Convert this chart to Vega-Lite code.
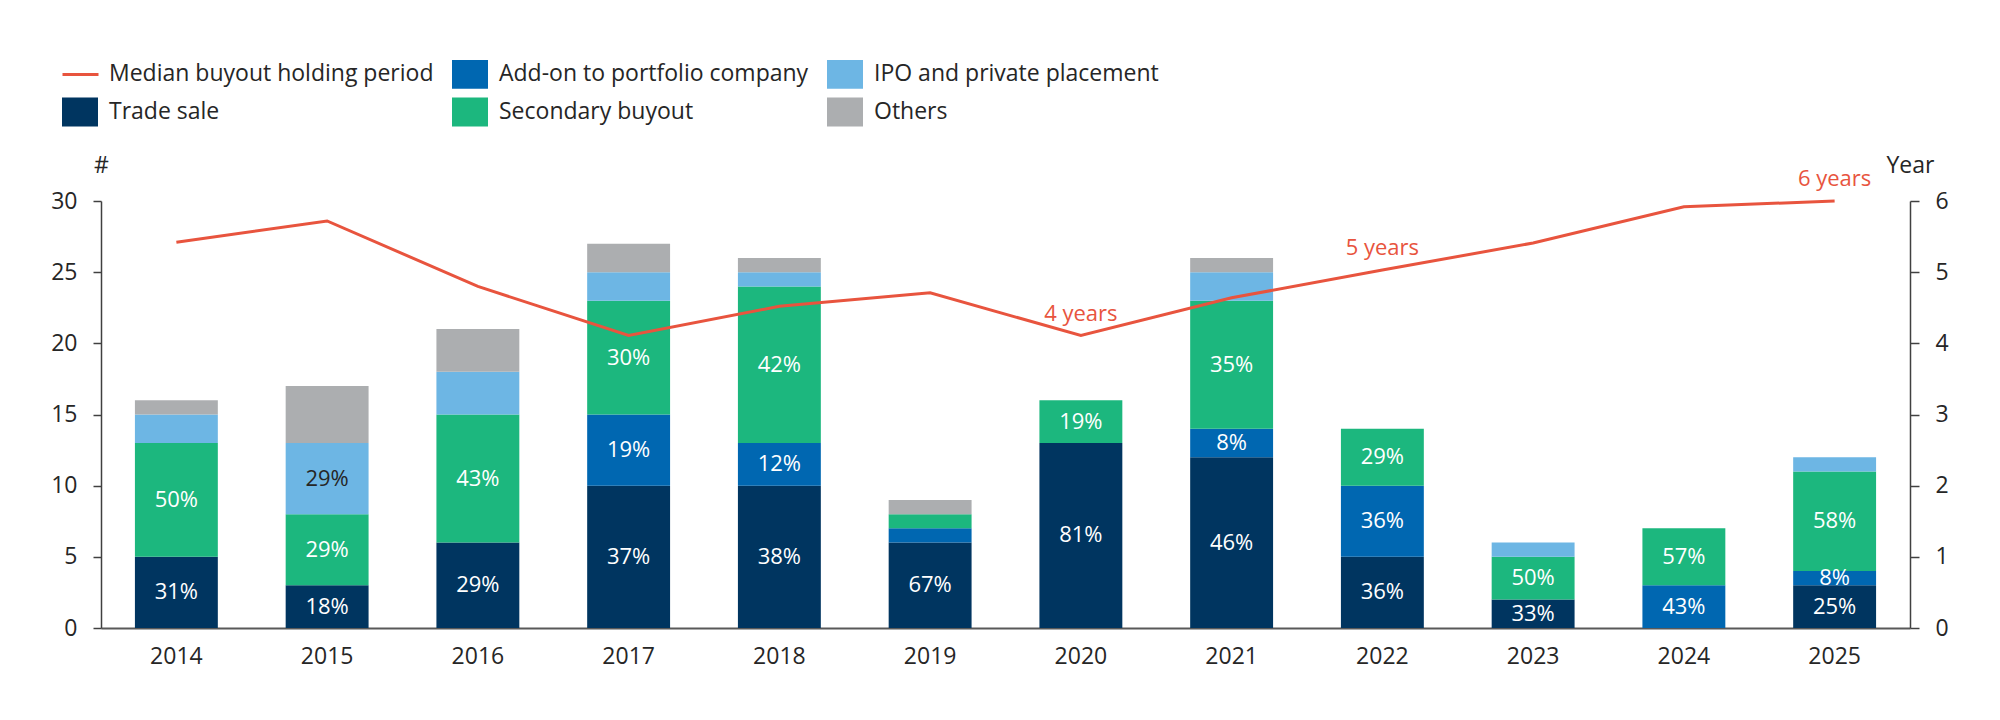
{
  "$schema": "https://vega.github.io/schema/vega-lite/v6.json",
  "width": 1809,
  "height": 427,
  "autosize": {"type": "none"},
  "padding": {"left": 101, "top": 201, "right": 90, "bottom": 92},
  "background": "white",
  "config": {
    "view": {"stroke": null},
    "font": "Open Sans",
    "axis": {
      "labelFont": "Open Sans",
      "labelFontSize": 23,
      "labelColor": "#262626",
      "titleFont": "Open Sans",
      "titleFontSize": 23,
      "titleFontWeight": "normal",
      "titleColor": "#262626",
      "grid": false
    },
    "legend": {
      "orient": "none",
      "legendX": -40,
      "legendY": -146,
      "direction": "horizontal",
      "columns": 3,
      "columnPadding": 17,
      "rowPadding": 4,
      "symbolSize": 1296,
      "labelFont": "Open Sans",
      "labelFontSize": 23,
      "labelColor": "#262626",
      "labelOffset": 10,
      "labelLimit": 600,
      "title": null
    }
  },
  "datasets": {
    "exits": [
      {"year": 2014, "type": "Trade sale", "n": 5, "pct": "31%", "k": 1},
      {"year": 2014, "type": "Secondary buyout", "n": 8, "pct": "50%", "k": 3},
      {"year": 2014, "type": "IPO and private placement", "n": 2, "pct": "", "k": 4},
      {"year": 2014, "type": "Others", "n": 1, "pct": "", "k": 5},
      {"year": 2015, "type": "Trade sale", "n": 3, "pct": "18%", "k": 1},
      {"year": 2015, "type": "Secondary buyout", "n": 5, "pct": "29%", "k": 3},
      {"year": 2015, "type": "IPO and private placement", "n": 5, "pct": "29%", "k": 4},
      {"year": 2015, "type": "Others", "n": 4, "pct": "", "k": 5},
      {"year": 2016, "type": "Trade sale", "n": 6, "pct": "29%", "k": 1},
      {"year": 2016, "type": "Secondary buyout", "n": 9, "pct": "43%", "k": 3},
      {"year": 2016, "type": "IPO and private placement", "n": 3, "pct": "", "k": 4},
      {"year": 2016, "type": "Others", "n": 3, "pct": "", "k": 5},
      {"year": 2017, "type": "Trade sale", "n": 10, "pct": "37%", "k": 1},
      {"year": 2017, "type": "Add-on to portfolio company", "n": 5, "pct": "19%", "k": 2},
      {"year": 2017, "type": "Secondary buyout", "n": 8, "pct": "30%", "k": 3},
      {"year": 2017, "type": "IPO and private placement", "n": 2, "pct": "", "k": 4},
      {"year": 2017, "type": "Others", "n": 2, "pct": "", "k": 5},
      {"year": 2018, "type": "Trade sale", "n": 10, "pct": "38%", "k": 1},
      {"year": 2018, "type": "Add-on to portfolio company", "n": 3, "pct": "12%", "k": 2},
      {"year": 2018, "type": "Secondary buyout", "n": 11, "pct": "42%", "k": 3},
      {"year": 2018, "type": "IPO and private placement", "n": 1, "pct": "", "k": 4},
      {"year": 2018, "type": "Others", "n": 1, "pct": "", "k": 5},
      {"year": 2019, "type": "Trade sale", "n": 6, "pct": "67%", "k": 1},
      {"year": 2019, "type": "Add-on to portfolio company", "n": 1, "pct": "", "k": 2},
      {"year": 2019, "type": "Secondary buyout", "n": 1, "pct": "", "k": 3},
      {"year": 2019, "type": "Others", "n": 1, "pct": "", "k": 5},
      {"year": 2020, "type": "Trade sale", "n": 13, "pct": "81%", "k": 1},
      {"year": 2020, "type": "Secondary buyout", "n": 3, "pct": "19%", "k": 3},
      {"year": 2021, "type": "Trade sale", "n": 12, "pct": "46%", "k": 1},
      {"year": 2021, "type": "Add-on to portfolio company", "n": 2, "pct": "8%", "k": 2},
      {"year": 2021, "type": "Secondary buyout", "n": 9, "pct": "35%", "k": 3},
      {"year": 2021, "type": "IPO and private placement", "n": 2, "pct": "", "k": 4},
      {"year": 2021, "type": "Others", "n": 1, "pct": "", "k": 5},
      {"year": 2022, "type": "Trade sale", "n": 5, "pct": "36%", "k": 1},
      {"year": 2022, "type": "Add-on to portfolio company", "n": 5, "pct": "36%", "k": 2},
      {"year": 2022, "type": "Secondary buyout", "n": 4, "pct": "29%", "k": 3},
      {"year": 2023, "type": "Trade sale", "n": 2, "pct": "33%", "k": 1},
      {"year": 2023, "type": "Secondary buyout", "n": 3, "pct": "50%", "k": 3},
      {"year": 2023, "type": "IPO and private placement", "n": 1, "pct": "", "k": 4},
      {"year": 2024, "type": "Add-on to portfolio company", "n": 3, "pct": "43%", "k": 2},
      {"year": 2024, "type": "Secondary buyout", "n": 4, "pct": "57%", "k": 3},
      {"year": 2025, "type": "Trade sale", "n": 3, "pct": "25%", "k": 1},
      {"year": 2025, "type": "Add-on to portfolio company", "n": 1, "pct": "8%", "k": 2},
      {"year": 2025, "type": "Secondary buyout", "n": 7, "pct": "58%", "k": 3},
      {"year": 2025, "type": "IPO and private placement", "n": 1, "pct": "", "k": 4}
    ],
    "holding": [
      {"year": 2014, "m": 5.42, "tag": ""},
      {"year": 2015, "m": 5.72, "tag": ""},
      {"year": 2016, "m": 4.8, "tag": ""},
      {"year": 2017, "m": 4.11, "tag": ""},
      {"year": 2018, "m": 4.52, "tag": ""},
      {"year": 2019, "m": 4.71, "tag": ""},
      {"year": 2020, "m": 4.11, "tag": "4 years"},
      {"year": 2021, "m": 4.64, "tag": ""},
      {"year": 2022, "m": 5.03, "tag": "5 years"},
      {"year": 2023, "m": 5.41, "tag": ""},
      {"year": 2024, "m": 5.92, "tag": ""},
      {"year": 2025, "m": 6.0, "tag": "6 years"}
    ]
  },
  "encoding": {
    "x": {
      "field": "year",
      "type": "ordinal",
      "scale": {"paddingInner": 0.45, "paddingOuter": 0.225},
      "axis": {
        "title": null,
        "labelAngle": 0,
        "ticks": false,
        "tickSize": 0,
        "labelPadding": 17,
        "domainColor": "#595959",
        "domainWidth": 2
      }
    }
  },
  "layer": [
    {
      "data": {"name": "exits"},
      "encoding": {
        "y": {
          "field": "n",
          "type": "quantitative",
          "stack": "zero",
          "title": "#",
          "scale": {"domain": [0, 30]},
          "axis": {
            "title": "#",
            "orient": "left",
            "values": [0, 5, 10, 15, 20, 25, 30],
            "titleAngle": 0,
            "titleX": 0,
            "titleY": -36,
            "titleAlign": "center",
            "titleBaseline": "middle",
            "tickSize": 8,
            "labelPadding": 16,
            "domainColor": "#404040",
            "tickColor": "#404040",
            "domainWidth": 1.5,
            "tickWidth": 1.5
          }
        },
        "order": {"field": "k", "type": "quantitative"}
      },
      "layer": [
        {
          "mark": {"type": "bar"},
          "encoding": {
            "color": {
              "field": "type",
              "type": "nominal",
              "scale": {
                "domain": ["Median buyout holding period", "Add-on to portfolio company", "IPO and private placement", "Trade sale", "Secondary buyout", "Others"],
                "range": ["transparent", "#0067B1", "#6DB6E4", "#003560", "#1CB77E", "#ACAEB0"]
              },
              "legend": {"symbolType": "M-1,-0.8H1V0.8H-1Z"}
            }
          }
        },
        {
          "mark": {"type": "text", "fontSize": 22, "baseline": "middle", "align": "center", "font": "Open Sans"},
          "encoding": {
            "y": {
              "field": "n",
              "type": "quantitative",
              "stack": "zero",
              "bandPosition": 0.5,
              "title": "#",
              "scale": {"domain": [0, 30]},
              "axis": {
                "title": "#",
                "orient": "left",
                "values": [0, 5, 10, 15, 20, 25, 30],
                "titleAngle": 0,
                "titleX": 0,
                "titleY": -36,
                "titleAlign": "center",
                "titleBaseline": "middle",
                "tickSize": 8,
                "labelPadding": 16,
                "domainColor": "#404040",
                "tickColor": "#404040",
                "domainWidth": 1.5,
                "tickWidth": 1.5
              }
            },
            "text": {"field": "pct"},
            "color": {
              "condition": {"test": "datum.type === 'IPO and private placement'", "value": "#262626"},
              "value": "#ffffff"
            }
          }
        }
      ]
    },
    {
      "data": {"name": "holding"},
      "encoding": {
        "y": {
          "field": "m",
          "type": "quantitative",
          "title": "Year",
          "scale": {"domain": [0, 6]},
          "axis": {
            "title": "Year",
            "orient": "right",
            "values": [0, 1, 2, 3, 4, 5, 6],
            "titleAngle": 0,
            "titleX": 0,
            "titleY": -36,
            "titleAlign": "center",
            "titleBaseline": "middle",
            "tickSize": 9,
            "labelPadding": 16,
            "domainColor": "#404040",
            "tickColor": "#404040",
            "domainWidth": 1.5,
            "tickWidth": 1.5
          }
        }
      },
      "layer": [
        {
          "mark": {"type": "line", "strokeWidth": 3},
          "encoding": {
            "stroke": {
              "datum": "Median buyout holding period",
              "type": "nominal",
              "scale": {"domain": ["Median buyout holding period"], "range": ["#E8543E"]},
              "legend": {
                "symbolType": "stroke",
                "symbolStrokeWidth": 3,
                "labelOpacity": 0,
                "columns": 1
              }
            }
          }
        },
        {
          "mark": {"type": "text", "fontSize": 22, "baseline": "middle", "align": "center", "dy": -22, "color": "#E8543E", "font": "Open Sans"},
          "encoding": {
            "text": {"field": "tag"}
          }
        }
      ]
    }
  ],
  "resolve": {"scale": {"y": "independent"}}
}
